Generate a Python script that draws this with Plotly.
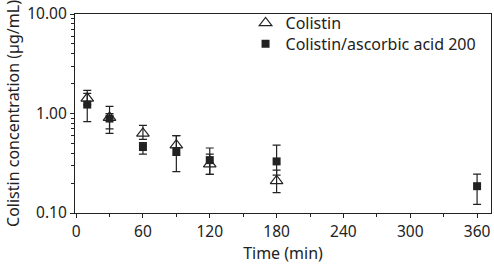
import plotly.graph_objects as go

time_colistin = [10, 30, 60, 90, 120, 180]
conc_colistin = [1.42, 0.91, 0.63, 0.48, 0.31, 0.21]
err_up_colistin = [0.29, 0.27, 0.13, 0.12, 0.08, 0.06]
err_dn_colistin = [0.20, 0.21, 0.08, 0.10, 0.065, 0.05]

time_combo = [10, 30, 60, 90, 120, 180, 360]
conc_combo = [1.23, 0.89, 0.46, 0.42, 0.34, 0.33, 0.186]
err_up_combo = [0.36, 0.11, 0.05, 0.18, 0.11, 0.15, 0.06]
err_dn_combo = [0.40, 0.26, 0.07, 0.16, 0.095, 0.09, 0.064]

x_ticks = [0, 60, 120, 180, 240, 300, 360]
y_ticks = [0.1, 1, 10]
y_ticktext = ["0.10", "1.00", "10.00"]

ink = "#222222"
font = "Noto Sans"

fig = go.Figure()
fig.add_trace(go.Scatter(
    x=time_colistin, y=conc_colistin, mode="markers", name="Colistin", legend="legend",
    marker=dict(symbol="triangle-up-open", size=11, color=ink, line=dict(width=1.2, color=ink)),
    error_y=dict(type="data", symmetric=False, array=err_up_colistin, arrayminus=err_dn_colistin,
                 color=ink, thickness=1.2, width=4),
))
fig.add_trace(go.Scatter(
    x=time_combo, y=conc_combo, mode="markers", name="Colistin/ascorbic acid 200", legend="legend2",
    marker=dict(symbol="square", size=8, color=ink),
    error_y=dict(type="data", symmetric=False, array=err_up_combo, arrayminus=err_dn_combo,
                 color=ink, thickness=1.2, width=4),
))

legend_style = dict(xanchor="left", yanchor="top", bgcolor="rgba(0,0,0,0)",
                    font=dict(size=16, family=font), itemwidth=30)

fig.update_layout(
    width=494, height=264,
    margin=dict(l=75, r=3, t=14, b=51, autoexpand=False),
    paper_bgcolor="white", plot_bgcolor="white",
    font=dict(family=font, size=15, color=ink),
    showlegend=True,
    legend=dict(x=0.41, y=1.04, **legend_style),
    legend2=dict(x=0.41, y=0.935, **legend_style),
    xaxis=dict(range=[-1, 372.5], tickvals=x_ticks, ticks="outside", ticklen=4, tickcolor=ink,
               showline=True, linecolor=ink, linewidth=1.2, mirror=True, showgrid=False, zeroline=False,
               title=dict(text="Time (min)", standoff=2, font=dict(size=16)),
               minor=dict(tickvals=[30, 90, 150, 210, 270, 330], ticks="outside", ticklen=3, tickcolor=ink),
               tickfont=dict(size=15.5)),
    yaxis=dict(type="log", range=[-1, 1], tickvals=y_ticks, ticktext=y_ticktext, ticks="outside",
               ticklen=4, tickcolor=ink, showline=True, linecolor=ink, linewidth=1.2, mirror=True,
               showgrid=False, zeroline=False,
               title=dict(text="Colistin concentration (µg/mL)", standoff=3, font=dict(size=16)),
               minor=dict(tickvals=[0.2, 0.3, 0.4, 0.5, 0.6, 0.7, 0.8, 0.9, 2, 3, 4, 5, 6, 7, 8, 9],
                          ticks="outside", ticklen=2.5, tickcolor=ink),
               tickfont=dict(size=15.5)),
)

fig.write_html("out.html", config={"displayModeBar": False},
               post_script="document.body.style.margin='0';")
